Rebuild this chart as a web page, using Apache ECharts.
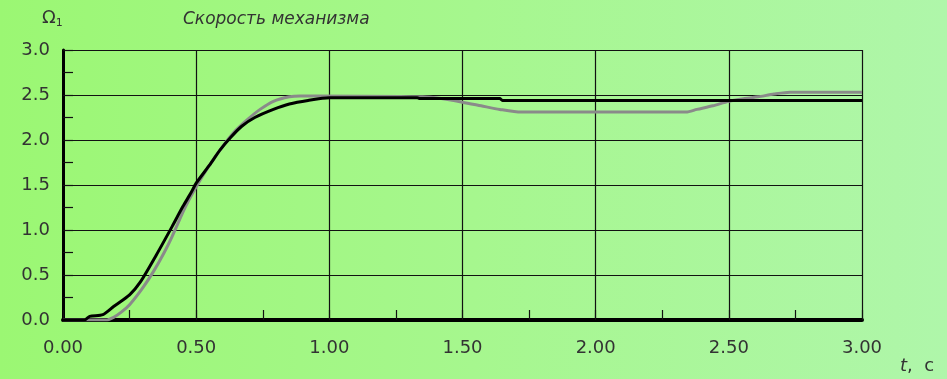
<!DOCTYPE html>
<html>
<head>
<meta charset="utf-8">
<script src="https://cdn.jsdelivr.net/npm/echarts@6/dist/echarts.min.js"></script>
<style>html,body{margin:0;padding:0;}#c{width:947px;height:379px;}</style>
</head>
<body>
<div id="c"></div>
<script>
const xTicks = ['0.00','0.50','1.00','1.50','2.00','2.50','3.00'];
const yTicks = ['0.0','0.5','1.0','1.5','2.0','2.5','3.0'];
const titleText = 'Скорость механизма';
const blackT = [0, 0.08, 0.10, 0.15, 0.19, 0.25, 0.29, 0.35, 0.41, 0.45, 0.48, 0.50, 0.55, 0.59, 0.63, 0.67, 0.72, 0.79, 0.85, 0.92, 1.00, 1.33, 1.34, 1.64, 1.65, 3.00];
const blackV = [0, 0, 0.04, 0.06, 0.15, 0.28, 0.42, 0.72, 1.04, 1.26, 1.41, 1.52, 1.72, 1.89, 2.03, 2.15, 2.25, 2.34, 2.40, 2.44, 2.47, 2.47, 2.46, 2.46, 2.44, 2.44];
const grayT = [0, 0.16, 0.19, 0.22, 0.25, 0.30, 0.34, 0.38, 0.41, 0.46, 0.51, 0.55, 0.59, 0.64, 0.69, 0.74, 0.79, 0.85, 0.89, 0.95, 1.35, 1.42, 1.50, 1.57, 1.64, 1.72, 2.34, 2.38, 2.44, 2.50, 2.56, 2.61, 2.67, 2.73, 3.00];
const grayV = [0, 0, 0.03, 0.09, 0.17, 0.36, 0.54, 0.75, 0.93, 1.26, 1.53, 1.72, 1.89, 2.08, 2.22, 2.34, 2.43, 2.48, 2.49, 2.49, 2.48, 2.46, 2.42, 2.38, 2.34, 2.31, 2.31, 2.34, 2.38, 2.43, 2.46, 2.48, 2.51, 2.53, 2.53];

const pair = (t, v) => t.map((x, i) => [x, v[i]]);
const font = 'DejaVu Sans';
const chart = echarts.init(document.getElementById('c'));
chart.setOption({
  animation: false,
  backgroundColor: new echarts.graphic.LinearGradient(0, 0, 1, 0, [
    {offset: 0, color: '#9bf773'}, {offset: 0.5, color: '#a6f78e'}, {offset: 1, color: '#aff6aa'}
  ]),
  grid: {left: 63, right: 85, top: 50, bottom: 59},
  xAxis: {
    type: 'value', min: 0, max: 3, interval: 0.5,
    axisLine: {show: true, lineStyle: {color: '#000', width: 4}},
    axisTick: {show: true, inside: true, length: 10, lineStyle: {color: '#111', width: 1.2}},
    minorTick: {show: true, splitNumber: 2, length: 10, lineStyle: {color: '#111', width: 1.2}},
    splitLine: {show: true, lineStyle: {color: '#111', width: 1.2}},
    axisLabel: {fontFamily: font, fontSize: 18, color: '#333', margin: 19,
      formatter: (v) => xTicks[Math.round(v / 0.5)]}
  },
  yAxis: {
    type: 'value', min: 0, max: 3, interval: 0.5,
    axisLine: {show: true, lineStyle: {color: '#000', width: 3}},
    axisTick: {show: true, inside: true, length: 10, lineStyle: {color: '#111', width: 1.2}},
    minorTick: {show: true, splitNumber: 2, length: 10, lineStyle: {color: '#111', width: 1.2}},
    splitLine: {show: true, lineStyle: {color: '#111', width: 1.2}},
    axisLabel: {fontFamily: font, fontSize: 18, color: '#333', margin: 13,
      formatter: (v) => yTicks[Math.round(v / 0.5)]}
  },
  series: [
    {type: 'line', data: pair(grayT, grayV), showSymbol: false, smooth: 0.25,
      lineStyle: {color: '#8a8a8a', width: 3}},
    {type: 'line', data: pair(blackT, blackV), showSymbol: false, smooth: 0.25,
      lineStyle: {color: '#000', width: 3}}
  ],
  graphic: [
    {type: 'text', left: 42, top: 9, style: {
      text: '{a|Ω}{b|1}', rich: {
        a: {fontFamily: font, fontSize: 18, fill: '#333'},
        b: {fontFamily: font, fontSize: 11, fill: '#333', padding: [10, 0, 0, 0]}
      }}},
    {type: 'text', left: 183, top: 11, style: {
      text: titleText, fontFamily: font, fontSize: 17, fontStyle: 'italic', fill: '#333'}},
    {type: 'text', left: 900, top: 357, style: {
      text: '{a|t},  {b|c}', rich: {
        a: {fontFamily: font, fontSize: 18, fontStyle: 'italic', fill: '#333'},
        b: {fontFamily: font, fontSize: 18, fill: '#333'}
      }, fontFamily: font, fontSize: 18, fill: '#333'}}
  ]
});
</script>
</body>
</html>
